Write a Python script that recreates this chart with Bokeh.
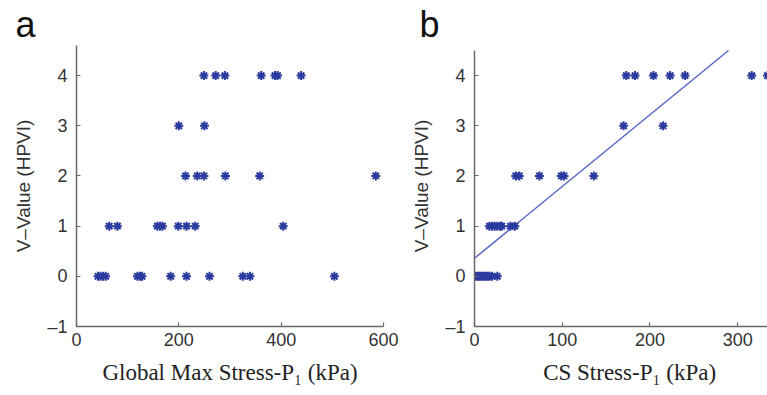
from bokeh.plotting import figure
from bokeh.layouts import row
from bokeh.models import Range1d, FixedTicker, Title
from bokeh.embed import file_html
from bokeh.resources import INLINE

# ---- data: panel a (Global Max Stress-P1 vs V-Value) ----
a_x = [249, 272, 290, 361, 388, 393, 439,
       200, 250,
       213, 236, 249, 291, 358, 585,
       64, 80, 158, 163, 168, 199, 215, 232, 404,
       42, 47, 52, 57, 119, 124, 128, 184, 215, 260, 325, 339, 504]
a_y = [4, 4, 4, 4, 4, 4, 4,
       3, 3,
       2, 2, 2, 2, 2, 2,
       1, 1, 1, 1, 1, 1, 1, 1, 1,
       0, 0, 0, 0, 0, 0, 0, 0, 0, 0, 0, 0, 0]

# ---- data: panel b (CS Stress-P1 vs V-Value) ----
b_x = [173, 183, 204, 223, 240, 316, 334,
       170, 215,
       47, 51, 74, 99, 102, 136,
       17, 20, 23, 26, 29, 31, 41, 46,
       1, 3, 5, 7, 9, 11, 13, 15, 17, 20, 26]
b_y = [4, 4, 4, 4, 4, 4, 4,
       3, 3,
       2, 2, 2, 2, 2, 2,
       1, 1, 1, 1, 1, 1, 1, 1,
       0, 0, 0, 0, 0, 0, 0, 0, 0, 0, 0]

# regression line
fit_intercept = 0.36
fit_slope = 0.0143

a_xticks = [0, 200, 400, 600]
b_xticks = [0, 100, 200, 300]
yticks = [-1, 0, 1, 2, 3, 4]
y_title = "V\u2013Value (HPVI)"
a_xtitle = "Global Max Stress-P\u2081 (kPa)"
b_xtitle = "\u00a0\u00a0\u00a0CS Stress-P\u2081 (kPa)"

MARK = "#2b3a9e"
LINE = "#5568c4"
AXIS = "#6a6a6a"
TICKTXT = "#333333"
SANS = "Liberation Sans"
SERIF = "Liberation Serif"


def style(p, xticks, letter, letter_offset):
    p.outline_line_color = None
    p.grid.visible = False
    p.background_fill_color = "white"
    p.border_fill_color = "white"
    p.xaxis.ticker = FixedTicker(ticks=xticks)
    p.yaxis.ticker = FixedTicker(ticks=yticks)
    p.yaxis.major_label_overrides = {-1: "\u20131"}
    for ax in (p.xaxis[0], p.yaxis[0]):
        ax.axis_line_color = AXIS
        ax.axis_line_width = 1.5
        ax.major_tick_line_color = AXIS
        ax.major_tick_line_width = 1.2
        ax.major_tick_in = 4
        ax.major_tick_out = 0
        ax.minor_tick_line_color = None
        ax.major_label_text_font = SANS
        ax.major_label_text_font_size = "18px"
        ax.major_label_text_color = TICKTXT
    p.yaxis.major_label_standoff = 9
    p.xaxis.major_label_standoff = 6
    p.yaxis.axis_label = y_title
    p.yaxis.axis_label_text_font = SANS
    p.yaxis.axis_label_text_font_style = "normal"
    p.yaxis.axis_label_text_font_size = "19px"
    p.yaxis.axis_label_text_color = TICKTXT
    p.yaxis.axis_label_standoff = 10
    p.xaxis.axis_label_text_font = SERIF
    p.xaxis.axis_label_text_font_style = "normal"
    p.xaxis.axis_label_text_font_size = "23px"
    p.xaxis.axis_label_text_color = "#222222"
    p.xaxis.axis_label_standoff = 11
    p.add_layout(Title(text=letter, text_font=SANS, text_font_size="36px",
                       text_font_style="normal", text_color="#111111",
                       align="left", offset=letter_offset, standoff=1), "above")


pa = figure(width=408, height=395, x_range=Range1d(0, 600), y_range=Range1d(-1, 4.6),
            output_backend="svg", toolbar_location=None,
            min_border_left=76, min_border_right=25, min_border_top=45, min_border_bottom=69)
style(pa, a_xticks, "a", -61)
pa.xaxis.axis_label = a_xtitle
pa.scatter(a_x, a_y, marker="asterisk", size=9, line_width=2, line_color=MARK)

pb = figure(width=359, height=395, x_range=Range1d(0, 334), y_range=Range1d(-1, 4.6),
            output_backend="svg", toolbar_location=None,
            min_border_left=64, min_border_right=0, min_border_top=45, min_border_bottom=69)
style(pb, b_xticks, "b", -55)
pb.xaxis.axis_label = b_xtitle
pb.yaxis.bounds = (-1, 4.5)
fx = [0, (4.5 - fit_intercept) / fit_slope]
fy = [fit_intercept + fit_slope * v for v in fx]
pb.line(fx, fy, line_color=LINE, line_width=1.5)
pb.scatter(b_x, b_y, marker="asterisk", size=9, line_width=2, line_color=MARK)

layout = row(pa, pb)
open("out.html", "w").write(file_html(layout, INLINE))
